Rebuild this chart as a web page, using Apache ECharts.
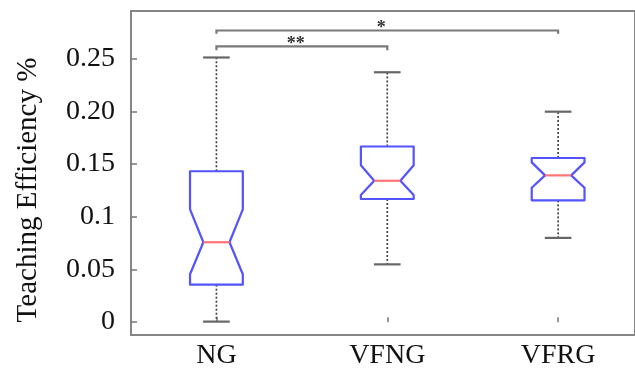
<!DOCTYPE html>
<html>
<head>
<meta charset="utf-8">
<script src="https://cdn.jsdelivr.net/npm/echarts@6/dist/echarts.min.js"></script>
<style>html,body{margin:0;padding:0;background:#fff}#c{width:635px;height:370px}</style>
</head>
<body>
<div id="c"></div>
<script>
// ---- data ----
var categories = ['NG', 'VFNG', 'VFRG'];
// per group: whisker low, q1, notch low, median, notch high, q3, whisker high
var whiskerLow  = [0.0005, 0.0548, 0.0799];
var q1          = [0.0355, 0.1168, 0.1155];
var notchLow    = [0.0454, 0.1206, 0.1275];
var median      = [0.0758, 0.1341, 0.1392];
var notchHigh   = [0.1070, 0.1488, 0.1515];
var q3          = [0.1431, 0.1666, 0.1557];
var whiskerHigh = [0.2510, 0.2370, 0.1996];
var yTickValues = [0, 0.05, 0.1, 0.15, 0.2, 0.25];
var yTickLabels = ['0', '0.05', '0.1', '0.15', '0.20', '0.25'];
// significance brackets: from group, to group, bar level, leg end, label
var bracketFrom  = [1, 1];
var bracketTo    = [3, 2];
var bracketLevel = [0.2766, 0.2616];
var bracketLeg   = [0.2735, 0.2578];
var bracketText  = ['*', '**'];

var boxData = categories.map(function (c, i) {
  return [i + 1, whiskerLow[i], q1[i], notchLow[i], median[i], notchHigh[i], q3[i], whiskerHigh[i]];
});
var bracketData = bracketFrom.map(function (f, i) {
  return [f, bracketTo[i], bracketLevel[i], bracketLeg[i], bracketText[i]];
});

var chart = echarts.init(document.getElementById('c'), null, {renderer: 'canvas'});
var serif = '"Liberation Serif", "DejaVu Serif", serif';
var BOX_HW = 0.1545, NOTCH_HW = 0.0765, CAP_HW = 0.078;

function renderBox(params, api) {
  var x = api.value(0);
  var v = [1,2,3,4,5,6,7].map(function (k) { return api.value(k); });
  var wl = v[0], b1 = v[1], nl = v[2], md = v[3], nh = v[4], b3 = v[5], wh = v[6];
  var P = function (dx, y) { return api.coord([x + dx, y]); };
  var poly = [P(-BOX_HW, b3), P(BOX_HW, b3), P(BOX_HW, nh), P(NOTCH_HW, md), P(BOX_HW, nl),
              P(BOX_HW, b1), P(-BOX_HW, b1), P(-BOX_HW, nl), P(-NOTCH_HW, md), P(-BOX_HW, nh)];
  var dotted = {stroke: '#444', lineWidth: 1.7, lineDash: [2, 2]};
  var cap = {stroke: '#666', lineWidth: 2.2};
  return {
    type: 'group',
    children: [
      {type: 'line', shape: {x1: P(0, b3)[0], y1: P(0, b3)[1], x2: P(0, wh)[0], y2: P(0, wh)[1]}, style: dotted},
      {type: 'line', shape: {x1: P(0, b1)[0], y1: P(0, b1)[1], x2: P(0, wl)[0], y2: P(0, wl)[1]}, style: dotted},
      {type: 'line', shape: {x1: P(-CAP_HW, wh)[0], y1: P(0, wh)[1], x2: P(CAP_HW, wh)[0], y2: P(0, wh)[1]}, style: cap},
      {type: 'line', shape: {x1: P(-CAP_HW, wl)[0], y1: P(0, wl)[1], x2: P(CAP_HW, wl)[0], y2: P(0, wl)[1]}, style: cap},
      {type: 'polygon', shape: {points: poly}, style: {fill: 'none', stroke: '#5353ff', lineWidth: 2.2, lineJoin: 'round'}},
      {type: 'line', shape: {x1: P(-NOTCH_HW, md)[0], y1: P(0, md)[1], x2: P(NOTCH_HW, md)[0], y2: P(0, md)[1]},
       style: {stroke: '#ff7474', lineWidth: 2.2}}
    ]
  };
}

function renderBracket(params, api) {
  var x1 = api.value(0), x2 = api.value(1), lv = api.value(2), lg = api.value(3);
  var label = bracketData[params.dataIndex][4];
  var a = api.coord([x1, lg]), b = api.coord([x1, lv]), c = api.coord([x2, lv]), d = api.coord([x2, lg]);
  return {
    type: 'group',
    children: [
      {type: 'polyline', shape: {points: [a, b, c, d]}, style: {fill: 'none', stroke: '#7a7a7a', lineWidth: 2.2}},
      {type: 'text', style: {text: label, x: (b[0] + c[0]) / 2 - 6, y: b[1] - 2, textAlign: 'center',
        textVerticalAlign: 'middle', font: 'bold 18px ' + serif, fill: '#333'}}
    ]
  };
}

chart.setOption({
  animation: false,
  backgroundColor: '#fff',
  grid: {left: 131, top: 11, right: -6, bottom: 32, show: true, borderColor: '#858585', borderWidth: 2, containLabel: false},
  xAxis: {
    type: 'value', min: 0.5, max: 3.45,
    axisLine: {show: false}, splitLine: {show: false},
    axisTick: {show: true, inside: true, length: 5, customValues: [1, 2, 3], lineStyle: {color: '#777', width: 1.5}},
    axisLabel: {show: true, customValues: [1, 2, 3], margin: 7, color: '#111', fontFamily: serif, fontSize: 28,
      formatter: function (v) { return categories[Math.round(v) - 1] || ''; }}
  },
  yAxis: {
    type: 'value', min: -0.0122, max: 0.2951,
    axisLine: {show: false}, splitLine: {show: false},
    axisTick: {show: true, inside: true, length: 6, customValues: yTickValues, lineStyle: {color: '#777', width: 1.5}},
    axisLabel: {show: true, customValues: yTickValues, margin: 16, color: '#111', fontFamily: serif, fontSize: 28,
      padding: [0, 0, 12, 0],
      formatter: function (v) {
        for (var i = 0; i < yTickValues.length; i++) { if (Math.abs(yTickValues[i] - v) < 1e-9) return yTickLabels[i]; }
        return '';
      }}
  },
  graphic: [{
    type: 'text', x: 28, y: 190, rotation: Math.PI / 2,
    style: {text: 'Teaching Efficiency %', textAlign: 'center', textVerticalAlign: 'middle',
      font: '29px ' + serif, fill: '#111'}
  }],
  series: [
    {type: 'custom', renderItem: renderBox, data: boxData, encode: {x: 0, y: [1, 7]}, clip: false},
    {type: 'custom', renderItem: renderBracket, data: bracketData.map(function (d) { return d.slice(0, 4); }),
     encode: {x: [0, 1], y: [2, 3]}, clip: false}
  ]
});
</script>
</body>
</html>
